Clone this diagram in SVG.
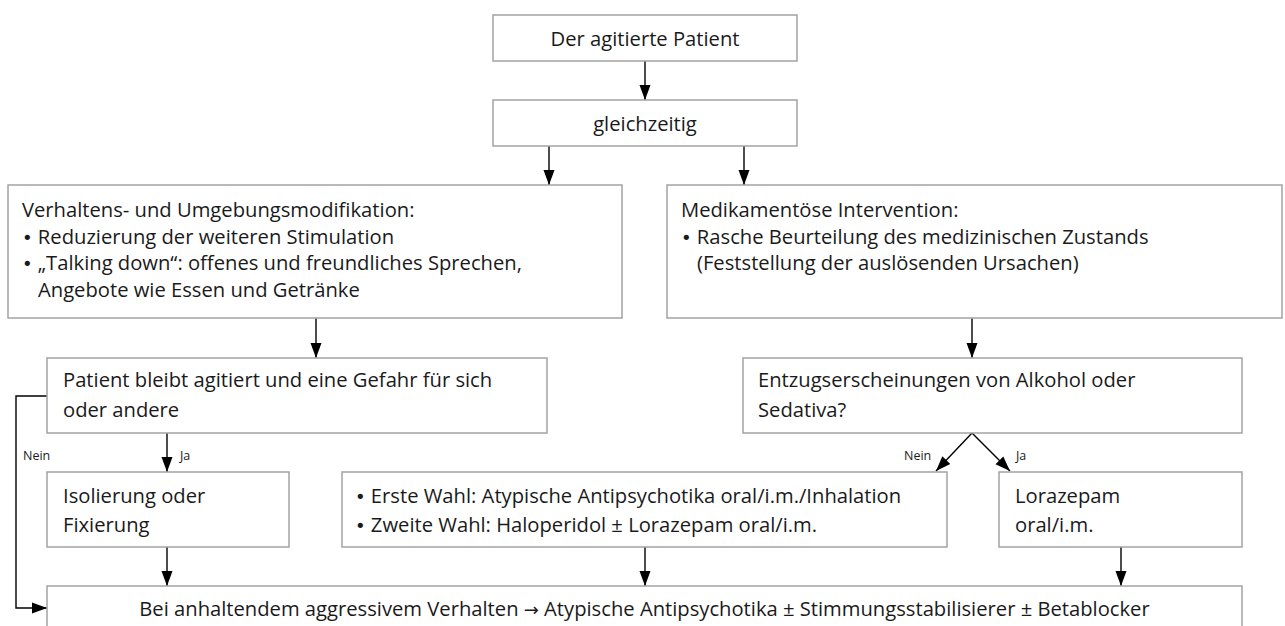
<svg xmlns="http://www.w3.org/2000/svg" width="1285" height="626" viewBox="0 0 1285 626">
<style>
.box{fill:#fff;stroke:#a3a3a3;stroke-width:1.5}
.t{font-family:"Open Sans","Noto Sans",sans-serif;font-size:20.2px;fill:#1a1a1a}
.c{text-anchor:middle}
.b{font-family:"DejaVu Sans",sans-serif;font-size:18px}
.s{font-family:"Open Sans","Noto Sans",sans-serif;font-size:12.5px;fill:#1a1a1a}
.ln{fill:none;stroke:#000;stroke-width:1.4}
</style>
<defs>
<marker id="ah" viewBox="0 0 15 16" refX="15" refY="8" markerWidth="15" markerHeight="16" markerUnits="userSpaceOnUse" orient="auto">
<path d="M0,2.5 L15,8 L0,13.5 z" fill="#000"/>
</marker>
</defs>
<rect width="1285" height="626" fill="#fff"/>
<g id="connectors">
<line class="ln" x1="645" y1="61" x2="645" y2="100" marker-end="url(#ah)"/>
<line class="ln" x1="549" y1="146" x2="549" y2="185" marker-end="url(#ah)"/>
<line class="ln" x1="744" y1="146" x2="744" y2="185" marker-end="url(#ah)"/>
<line class="ln" x1="316" y1="318" x2="316" y2="358" marker-end="url(#ah)"/>
<line class="ln" x1="972" y1="318" x2="972" y2="358" marker-end="url(#ah)"/>
<line class="ln" x1="167" y1="433" x2="167" y2="472" marker-end="url(#ah)"/>
<polyline class="ln" points="47,396 16,396 16,608 47,608" marker-end="url(#ah)"/>
<polyline class="ln" points="972,433 936,471" marker-end="url(#ah)"/>
<polyline class="ln" points="972,433 1010,471" marker-end="url(#ah)"/>
<line class="ln" x1="167" y1="547" x2="167" y2="586" marker-end="url(#ah)"/>
<line class="ln" x1="645" y1="547" x2="645" y2="586" marker-end="url(#ah)"/>
<line class="ln" x1="1121" y1="547" x2="1121" y2="586" marker-end="url(#ah)"/>
<text class="s" x="23" y="460">Nein</text>
<text class="s" x="180" y="460">Ja</text>
<text class="s" x="904" y="460">Nein</text>
<text class="s" x="1016" y="460">Ja</text>
</g>
<g id="n1">
<rect class="box" x="493" y="15" width="304" height="46"/>
<text class="t c" x="645" y="45.5">Der agitierte Patient</text>
</g>
<g id="n2">
<rect class="box" x="493" y="100" width="304" height="46"/>
<text class="t c" x="645" y="130.5">gleichzeitig</text>
</g>
<g id="n3">
<rect class="box" x="8" y="185" width="614" height="133"/>
<text class="t" x="22" y="217">Verhaltens- und Umgebungsmodifikation:</text>
<text class="t" x="22" y="243.5"><tspan class="b">•</tspan> Reduzierung der weiteren Stimulation</text>
<text class="t" x="22" y="270"><tspan class="b">•</tspan> „Talking down“: offenes und freundliches Sprechen,</text>
<text class="t" x="38" y="296.5">Angebote wie Essen und Getränke</text>
</g>
<g id="n4">
<rect class="box" x="667" y="185" width="615" height="133"/>
<text class="t" x="681" y="217">Medikamentöse Intervention:</text>
<text class="t" x="681" y="243.5"><tspan class="b">•</tspan> Rasche Beurteilung des medizinischen Zustands</text>
<text class="t" x="697" y="270">(Feststellung der auslösenden Ursachen)</text>
</g>
<g id="n5">
<rect class="box" x="47" y="358" width="500" height="75"/>
<text class="t" x="63" y="387">Patient bleibt agitiert und eine Gefahr für sich</text>
<text class="t" x="63" y="417">oder andere</text>
</g>
<g id="n6">
<rect class="box" x="743" y="358" width="499" height="75"/>
<text class="t" x="758" y="387">Entzugserscheinungen von Alkohol oder</text>
<text class="t" x="758" y="417">Sedativa?</text>
</g>
<g id="n7">
<rect class="box" x="47" y="472" width="242" height="75"/>
<text class="t" x="63" y="503">Isolierung oder</text>
<text class="t" x="63" y="532">Fixierung</text>
</g>
<g id="n8">
<rect class="box" x="342" y="472" width="605" height="75"/>
<text class="t" x="355" y="503"><tspan class="b">•</tspan> Erste Wahl: Atypische Antipsychotika oral/i.m./Inhalation</text>
<text class="t" x="355" y="532"><tspan class="b">•</tspan> Zweite Wahl: Haloperidol ± Lorazepam oral/i.m.</text>
</g>
<g id="n9">
<rect class="box" x="999" y="472" width="243" height="75"/>
<text class="t" x="1015" y="503">Lorazepam</text>
<text class="t" x="1015" y="532">oral/i.m.</text>
</g>
<g id="n10">
<rect class="box" x="47" y="586" width="1195" height="50"/>
<text class="t c" x="644.5" y="616">Bei anhaltendem aggressivem Verhalten <tspan class="b">→</tspan> Atypische Antipsychotika ± Stimmungsstabilisierer ± Betablocker</text>
</g>
</svg>
